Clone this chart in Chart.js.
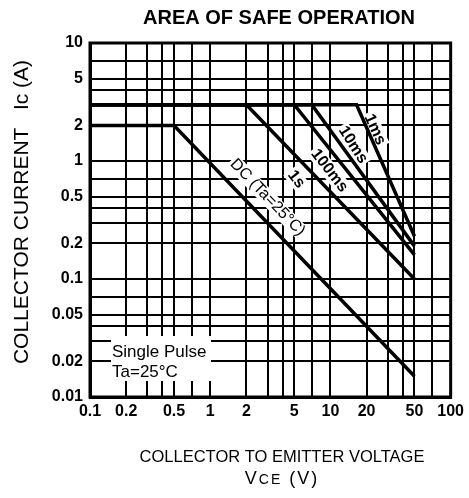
<!DOCTYPE html>
<html>
<head>
<meta charset="utf-8">
<script src="https://cdn.jsdelivr.net/npm/chart.js@4"></script>
<style>
  html, body { margin: 0; padding: 0; background: #fff; }
  canvas { display: block; }
</style>
</head>
<body>
<canvas id="c" width="469" height="498"></canvas>
<script>
// ---- data ----
const gridX = [0.1,0.2,0.3,0.4,0.5,0.7,1,2,3,4,5,7,10,20,30,40,50,70,100];
const labelX = [0.1,0.2,0.5,1,2,5,10,20,50,100];
const gridY = [0.01,0.02,0.03,0.04,0.05,0.07,0.1,0.2,0.3,0.4,0.5,0.7,1,2,3,4,5,7,10];
const labelY = [0.01,0.02,0.05,0.1,0.2,0.5,1,2,5,10];

const dcV    = [0.1, 0.5, 50];  const dcI    = [2, 2, 0.015];
const s1V    = [0.1, 2, 50];    const s1I    = [3, 3, 0.1];
const ms100V = [0.1, 5, 50];    const ms100I = [3, 3, 0.16];
const ms10V  = [0.1, 7, 50];    const ms10I  = [3, 3, 0.19];
const ms1V   = [0.1, 16.5, 50]; const ms1I   = [3, 3, 0.23];

const curveNames = ['DC (Ta=25°C)', '1s', '100ms', '10ms', '1ms'];

// ---- build ----
function pts(vs, is) { return vs.map((v, k) => ({ x: v, y: is[k] })); }
const series = [[dcV, dcI], [s1V, s1I], [ms100V, ms100I], [ms10V, ms10I], [ms1V, ms1I]];

const FONT = '"Liberation Sans", Arial, Helvetica, sans-serif';

// label anchors (data coords) and rotation, style only
const labelPlace = [
  { v: 3.0,  i: 0.49, ang: 46, bold: false },
  { v: 5.2,  i: 0.70, ang: 52, bold: true },
  { v: 9.8,  i: 0.83, ang: 52, bold: true },
  { v: 15.4, i: 1.37, ang: 57, bold: true },
  { v: 23.4, i: 1.85, ang: 66, bold: true }
];

function eachLabel(chart, fn) {
  const ctx = chart.ctx, xs = chart.scales.x, ys = chart.scales.y;
  curveNames.forEach((t, k) => {
    const p = labelPlace[k];
    const px = xs.getPixelForValue(p.v), py = ys.getPixelForValue(p.i);
    ctx.save();
    ctx.translate(px, py);
    ctx.rotate(p.ang * Math.PI / 180);
    ctx.font = (p.bold ? 'bold ' : '') + '16px ' + FONT;
    ctx.textAlign = 'center';
    ctx.textBaseline = 'middle';
    fn(ctx, t);
    ctx.restore();
  });
}

const decor = {
  id: 'decor',
  beforeDatasetsDraw(chart) {
    const ctx = chart.ctx;
    ctx.save();
    ctx.fillStyle = '#fff';
    ctx.fillRect(111, 336, 100, 45);
    eachLabel(chart, (c, t) => {
      const w = c.measureText(t).width;
      c.fillStyle = '#fff';
      c.fillRect(-w / 2 - 2, -8, w + 4, 16);
    });
    ctx.restore();
  },
  afterDraw(chart) {
    const ctx = chart.ctx, a = chart.chartArea;
    ctx.save();
    ctx.fillStyle = '#000';
    ctx.font = '17px ' + FONT;
    ctx.textAlign = 'left';
    ctx.textBaseline = 'alphabetic';
    ctx.fillText('Single Pulse', 112, 357);
    ctx.fillText('Ta=25°C', 112, 377);

    eachLabel(chart, (c, t) => { c.fillStyle = '#000'; c.fillText(t, 0, 0); });

    // frame
    ctx.strokeStyle = '#000';
    ctx.lineWidth = 3;
    ctx.strokeRect(a.left, a.top, a.right - a.left, a.bottom - a.top);

    // title
    ctx.fillStyle = '#000';
    ctx.font = 'bold 20px ' + FONT;
    ctx.textAlign = 'center';
    ctx.textBaseline = 'alphabetic';
    ctx.fillText('AREA OF SAFE OPERATION', 279, 24);

    // x title
    ctx.font = '16.5px ' + FONT;
    ctx.fillText('COLLECTOR TO EMITTER VOLTAGE', 282, 462);
    // VCE (V)
    ctx.letterSpacing = '2px';
    const big = '18px ' + FONT, small = '14px ' + FONT;
    ctx.font = big; const w1 = ctx.measureText('V').width;
    ctx.font = small; const w2 = ctx.measureText('CE').width;
    ctx.font = big; const w3 = ctx.measureText(' (V)').width;
    let sx = 282 - (w1 + w2 + w3) / 2;
    ctx.textAlign = 'left';
    ctx.font = big; ctx.fillText('V', sx, 484); sx += w1;
    ctx.font = small; ctx.fillText('CE', sx, 484); sx += w2;
    ctx.font = big; ctx.fillText(' (V)', sx, 484);
    ctx.letterSpacing = '0px';

    // y title
    ctx.save();
    ctx.translate(22, 212);
    ctx.rotate(-Math.PI / 2);
    ctx.font = '21px ' + FONT;
    ctx.textAlign = 'center';
    ctx.textBaseline = 'middle';
    ctx.fillText('COLLECTOR CURRENT   Ic (A)', 0, 0);
    ctx.restore();
    ctx.restore();
  }
};

new Chart(document.getElementById('c'), {
  type: 'line',
  data: {
    datasets: series.map((s, k) => ({
      label: curveNames[k],
      data: pts(s[0], s[1]),
      borderColor: '#000',
      borderWidth: 3.5,
      pointRadius: 0,
      fill: false,
      tension: 0
    }))
  },
  options: {
    responsive: false,
    animation: false,
    devicePixelRatio: 1,
    layout: { padding: { top: 43, right: 17, bottom: 0, left: 0 } },
    plugins: { legend: { display: false }, tooltip: { enabled: false }, title: { display: false } },
    scales: {
      x: {
        type: 'logarithmic', min: 0.1, max: 100, position: 'bottom',
        afterBuildTicks: s => { s.ticks = gridX.map(v => ({ value: v })); },
        afterFit: s => { s.height = 101; },
        grid: { color: '#000', lineWidth: 2, drawTicks: false },
        border: { display: true, color: '#000', width: 3 },
        ticks: {
          autoSkip: false, maxRotation: 0, minRotation: 0, padding: 5,
          color: '#000', font: { family: FONT, size: 16, weight: 'bold' },
          callback: v => labelX.includes(v) ? String(v) : ''
        }
      },
      y: {
        type: 'logarithmic', min: 0.01, max: 10,
        afterBuildTicks: s => { s.ticks = gridY.map(v => ({ value: v })); },
        afterFit: s => { s.width = 90; },
        grid: { color: '#000', lineWidth: 2, drawTicks: false },
        border: { display: true, color: '#000', width: 3 },
        ticks: {
          autoSkip: false, padding: 7,
          color: '#000', font: { family: FONT, size: 16, weight: 'bold' },
          callback: v => labelY.includes(v) ? String(v) : ''
        }
      }
    }
  },
  plugins: [decor]
});
</script>
</body>
</html>
